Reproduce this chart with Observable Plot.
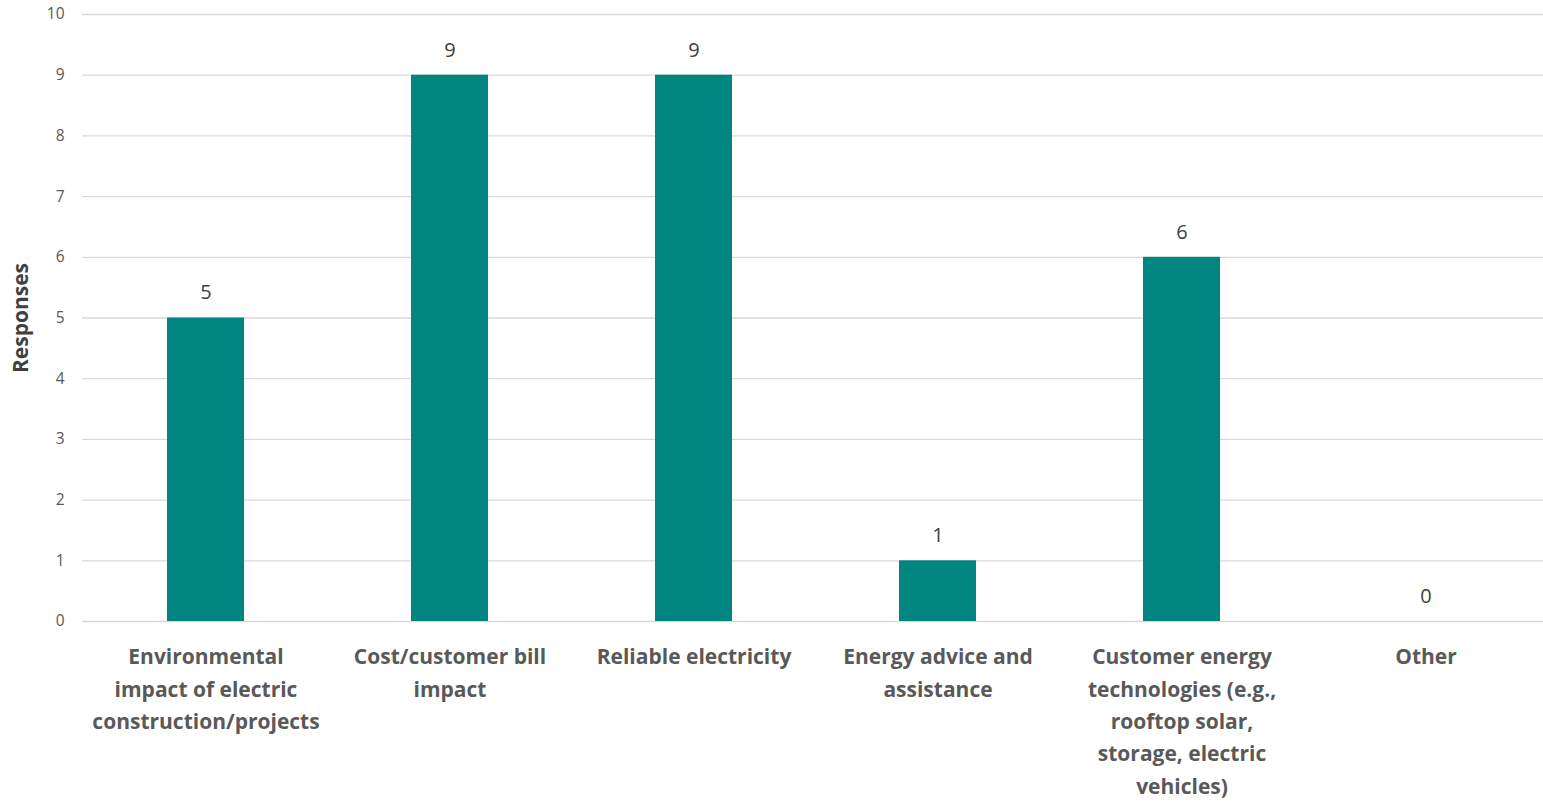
<!DOCTYPE html>
<html>
<head>
<meta charset="utf-8">
<script src="https://cdn.jsdelivr.net/npm/d3@7"></script>
<script src="https://cdn.jsdelivr.net/npm/@observablehq/plot@0.6"></script>
<style>
  html, body { margin: 0; padding: 0; background: #fff; overflow: hidden; }
  #chart svg { display: block; max-width: none !important; }
</style>
</head>
<body>
<div id="chart"></div>
<script>
const categories = [
  "Environmental\nimpact of electric\nconstruction/projects",
  "Cost/customer bill\nimpact",
  "Reliable electricity",
  "Energy advice and\nassistance",
  "Customer energy\ntechnologies (e.g.,\nrooftop solar,\nstorage, electric\nvehicles)",
  "Other"
];
const responses = [5, 9, 9, 1, 6, 0];
const yTicks = [0, 1, 2, 3, 4, 5, 6, 7, 8, 9, 10];
const yLabel = "Responses";

const data = categories.map((c, i) => ({category: c, value: responses[i]}));
const font = "'Open Sans', Lato, sans-serif";

const chart = Plot.plot({
  width: 1549,
  height: 802,
  marginLeft: 82,
  marginRight: 0,
  marginTop: 14,
  marginBottom: 181,
  style: {fontFamily: font, background: "#fff", maxWidth: "none"},
  x: {type: "band", domain: categories, paddingInner: 0.685, paddingOuter: 0.3425, axis: null},
  y: {domain: [0, 10], axis: null},
  marks: [
    Plot.ruleY(yTicks, {stroke: "#d9d9d9", strokeWidth: 1.3}),
    Plot.barY(data, {x: "category", y: "value", fill: "#008580"}),
    Plot.text(yTicks, {y: d => d, frameAnchor: "left", dx: -18, textAnchor: "end", text: d => String(d), fontSize: 15.5, fill: "#595959"}),
    Plot.text(data, {x: "category", y: "value", text: d => String(d.value), dy: -25, lineAnchor: "middle", fontSize: 20, fill: "#404040"}),
    Plot.text(data, {x: "category", y: 0, text: "category", dy: 20, lineAnchor: "top", lineHeight: 1.54, fontSize: 21, fontWeight: "bold", fill: "#595959"}),
    Plot.text([yLabel], {frameAnchor: "left", dx: -61, rotate: -90, textAnchor: "middle", text: d => d, fontSize: 21, fontWeight: "bold", fill: "#404040"})
  ]
});
document.getElementById("chart").appendChild(chart);
</script>
</body>
</html>
